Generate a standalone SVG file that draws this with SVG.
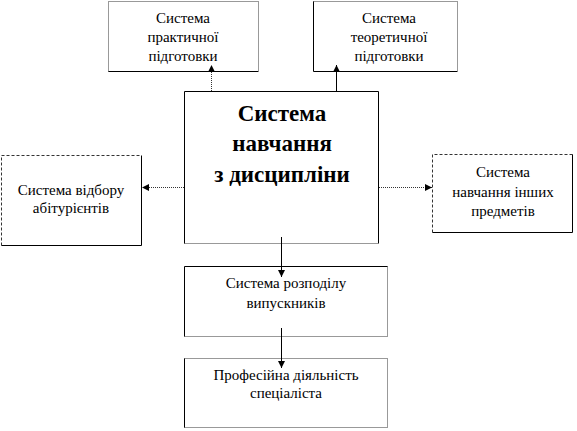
<svg xmlns="http://www.w3.org/2000/svg" width="577" height="431" viewBox="0 0 577 431">
<style>
.bg{fill:#fff;stroke:none}
.s{stroke:#000;stroke-width:1;fill:none}
.dt{stroke:#333;stroke-width:1;stroke-dasharray:1 1;fill:none}
.ds{stroke:#333;stroke-width:1;stroke-dasharray:3 2;fill:none}
.t{font-family:'Liberation Serif','Times New Roman',serif;font-size:15px;fill:#000;text-anchor:middle}
.tb{font-family:'Liberation Serif','Times New Roman',serif;font-size:23px;font-weight:bold;fill:#000;text-anchor:middle}
</style>
<defs>
<marker id="ah" viewBox="0 0 10 10" refX="10" refY="5" markerWidth="7" markerHeight="7" markerUnits="userSpaceOnUse" orient="auto">
<path d="M0,0 L10,5 L0,10 Z" fill="#000"/>
</marker>
</defs>
<rect width="577" height="431" fill="#fff"/>
<g id="practical">
<rect class="bg" x="108.5" y="1.5" width="150" height="70"/>
<path class="dt" d="M108.5,71.5 V1.5 H258.5 V71.5"/>
<path class="s" d="M108.5,71.5 H258.5"/>
<text class="t" x="183" y="23">Система</text>
<text class="t" x="183" y="42">практичної</text>
<text class="t" x="183" y="61">підготовки</text>
</g>
<g id="theoretical">
<rect class="bg" x="313.5" y="1.5" width="144" height="70"/>
<path class="dt" d="M313.5,1.5 H457.5 V71.5"/>
<path class="s" d="M313.5,1.5 V71.5 H457.5"/>
<text class="t" x="389" y="23">Система</text>
<text class="t" x="389" y="42">теоретичної</text>
<text class="t" x="389" y="61">підготовки</text>
</g>
<g id="main">
<rect class="bg" x="184.5" y="91.5" width="194" height="152"/>
<path class="s" d="M184.5,243.5 V91.5 H378.5 V243.5"/>
<path class="dt" d="M184.5,243.5 H378.5"/>
<text class="tb" x="282" y="121">Система</text>
<text class="tb" x="282" y="151">навчання</text>
<text class="tb" x="282" y="182">з дисципліни</text>
</g>
<g id="selection">
<rect class="bg" x="1.5" y="155.5" width="140" height="90"/>
<path class="ds" d="M1.5,245.5 V155.5 H141.5"/>
<path class="s" d="M141.5,155.5 V245.5 H1.5"/>
<text class="t" x="71" y="195">Система відбору</text>
<text class="t" x="71" y="213">абітурієнтів</text>
</g>
<g id="other">
<rect class="bg" x="432.5" y="154.5" width="140" height="78"/>
<path class="ds" d="M432.5,232.5 V154.5 H572.5"/>
<path class="s" d="M572.5,154.5 V232.5 H432.5"/>
<text class="t" x="503" y="177">Система</text>
<text class="t" x="503" y="197">навчання інших</text>
<text class="t" x="503" y="216">предметів</text>
</g>
<g id="distribution">
<rect class="bg" x="184.5" y="266.5" width="203" height="70"/>
<path class="s" d="M184.5,336.5 V266.5 H387.5"/>
<path class="dt" d="M387.5,266.5 V336.5 H184.5"/>
<text class="t" x="286" y="288">Система розподілу</text>
<text class="t" x="286" y="308">випускників</text>
</g>
<g id="professional">
<rect class="bg" x="184.5" y="358.5" width="203" height="69"/>
<path class="dt" d="M184.5,358.5 H387.5 V427.5 H184.5"/>
<path class="s" d="M184.5,358.5 V427.5"/>
<text class="t" x="286" y="380">Професійна діяльність</text>
<text class="t" x="286" y="398">спеціаліста</text>
</g>
<g id="connectors">
<line class="dt" x1="211.5" y1="91" x2="211.5" y2="65" marker-end="url(#ah)"/>
<line class="s" x1="336.5" y1="91" x2="336.5" y2="65" marker-end="url(#ah)"/>
<line class="dt" x1="184" y1="187.5" x2="142" y2="187.5" marker-end="url(#ah)"/>
<line class="dt" x1="379" y1="187.5" x2="432" y2="187.5" marker-end="url(#ah)"/>
<line class="s" x1="281.5" y1="237" x2="281.5" y2="277" marker-end="url(#ah)"/>
<line class="s" x1="281.5" y1="328" x2="281.5" y2="368" marker-end="url(#ah)"/>
</g>
</svg>
